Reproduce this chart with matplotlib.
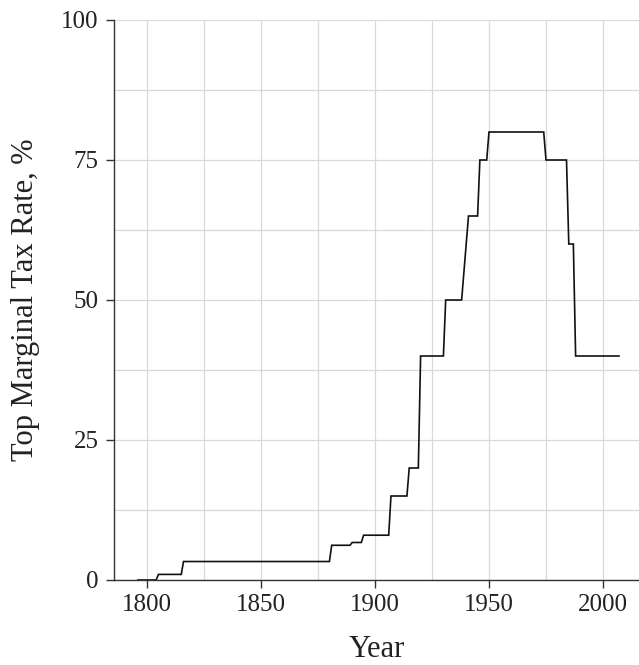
import matplotlib
matplotlib.use("Agg")
import matplotlib.pyplot as plt
from matplotlib.ticker import MultipleLocator

years = [1796, 1804, 1805, 1815, 1816, 1880, 1881, 1889, 1890, 1894, 1895,
         1906, 1907, 1914, 1915, 1919, 1920, 1930, 1931, 1938, 1941,
         1945, 1946, 1949, 1950, 1974, 1975, 1984, 1985, 1987, 1988, 2007]
rates = [0, 0, 1, 1, 3.3, 3.3, 6.2, 6.2, 6.7, 6.7, 8,
         8, 15, 15, 20, 20, 40, 40, 50, 50, 65,
         65, 75, 75, 80, 80, 75, 75, 60, 60, 40, 40]

x_ticks = [1800, 1850, 1900, 1950, 2000]
y_ticks = [0, 25, 50, 75, 100]

plt.rcParams['font.family'] = ['Liberation Serif', 'DejaVu Serif']

fig = plt.figure(figsize=(6.39, 6.65), dpi=100)
ax = fig.add_axes([114/639, 1 - 580/665, 1 - 114/639, 560/665])

ax.plot(years, rates, color='#111111', lw=1.2, solid_joinstyle='miter')

ax.set_xlim(1785.5, 2015.8)
ax.set_ylim(0, 100)
ax.set_xticks(x_ticks)
ax.set_yticks(y_ticks)
ax.xaxis.set_minor_locator(MultipleLocator(25))
ax.yaxis.set_minor_locator(MultipleLocator(12.5))
ax.grid(True, which='both', color='#d9d9d9', lw=0.9)
ax.set_axisbelow(True)
ax.tick_params(which='minor', length=0)
ax.tick_params(which='major', length=6, width=1, color='#333333',
               labelsize=18, labelcolor='#222222')
ax.tick_params(axis='x', pad=4)
ax.tick_params(axis='y', pad=5)
for s in ['top', 'right']:
    ax.spines[s].set_visible(False)
for s in ['left', 'bottom']:
    ax.spines[s].set_color('#333333')
    ax.spines[s].set_linewidth(1)

ax.set_xlabel('Year', fontsize=22, labelpad=14, color='#222222')
ax.set_ylabel('Top Marginal Tax Rate, %', fontsize=22, labelpad=15, color='#222222')

fig.savefig('out.png', dpi=100)
